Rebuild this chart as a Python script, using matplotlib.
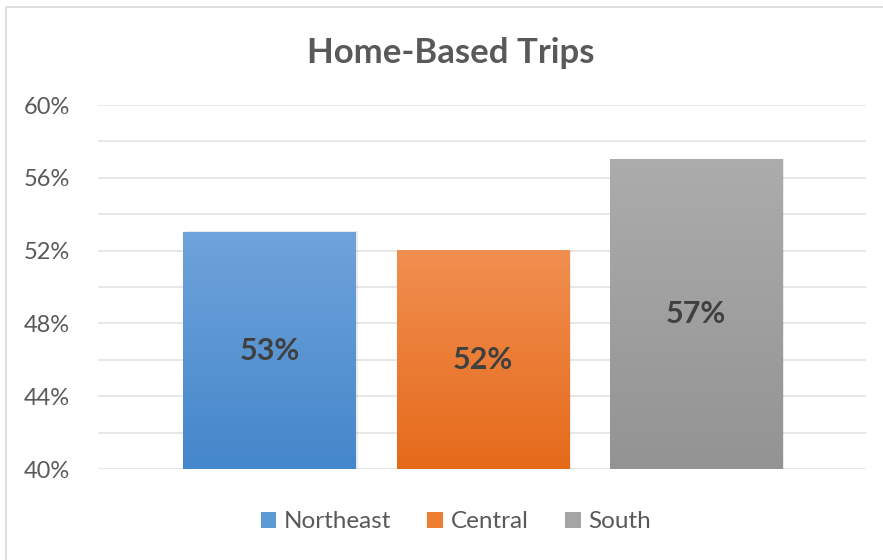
import numpy as np
import matplotlib
matplotlib.use("Agg")
import matplotlib.pyplot as plt
from matplotlib.patches import Rectangle
from matplotlib.colors import LinearSegmentedColormap

# data
regions = ["Northeast", "Central", "South"]
shares = [53, 52, 57]
labels = ["53%", "52%", "57%"]
top_colors = ["#6fa3db", "#f18f50", "#acacac"]
bottom_colors = ["#4487cb", "#e56a1a", "#939393"]
legend_colors = ["#5b9bd5", "#ed7d31", "#a5a5a5"]
yticks = [40, 44, 48, 52, 56, 60]

plt.rcParams['font.family'] = ['Lato', 'DejaVu Sans']

fig = plt.figure(figsize=(8.83, 5.6), dpi=100)
ax = fig.add_axes([0.111, 0.1625, 0.870, 0.65])

# outer chart border
fig.patches.append(Rectangle((0.007, -0.01), 1.0, 0.998, transform=fig.transFigure,
                             fill=False, edgecolor="#d9d9d9", linewidth=1.2))

width = 0.807
x = np.arange(len(regions))
ymin = 40

for i, (val, lab) in enumerate(zip(shares, labels)):
    left = x[i] - width / 2
    # soft shadow
    ax.add_patch(Rectangle((left + 0.01, ymin), width, val - ymin + 0.05,
                           facecolor="#000000", alpha=0.08, zorder=2, linewidth=0))
    cmap = LinearSegmentedColormap.from_list("g%d" % i, [bottom_colors[i], top_colors[i]])
    grad = np.linspace(0, 1, 256).reshape(-1, 1)
    ax.imshow(grad, extent=(left, left + width, ymin, val), origin="lower",
              cmap=cmap, aspect="auto", zorder=3)
    ax.text(x[i], (ymin + val) / 2, lab, ha="center", va="center",
            fontsize=22, fontweight="bold", color="#404040", zorder=4)
    # proxy for legend
    ax.bar([np.nan], [np.nan], color=legend_colors[i], label=regions[i])

ax.set_xlim(-0.803, 2.798)
ax.set_ylim(40, 60)
ax.set_yticks(yticks)
ax.set_yticklabels(["%d%%" % t for t in yticks])
ax.set_yticks(np.arange(40, 61, 2), minor=True)
ax.set_xticks([])
ax.grid(axis="y", which="both", color="#e3e3e3", linewidth=1.2, zorder=0)
ax.set_axisbelow(True)
ax.tick_params(axis="y", which="both", length=0, labelsize=17, labelcolor="#595959", pad=20)
for s in ax.spines.values():
    s.set_visible(False)

fig.text(0.511, 0.905, "Home-Based Trips", ha="center", va="center",
         fontsize=25, fontweight="bold", color="#595959")

fig.legend(loc="center", bbox_to_anchor=(0.516, 0.068), ncol=3, frameon=False,
           fontsize=17.5, labelcolor="#595959", handlelength=0.65, handleheight=0.65,
           handletextpad=0.3, columnspacing=1.5)

fig.savefig("out.png", dpi=100)
